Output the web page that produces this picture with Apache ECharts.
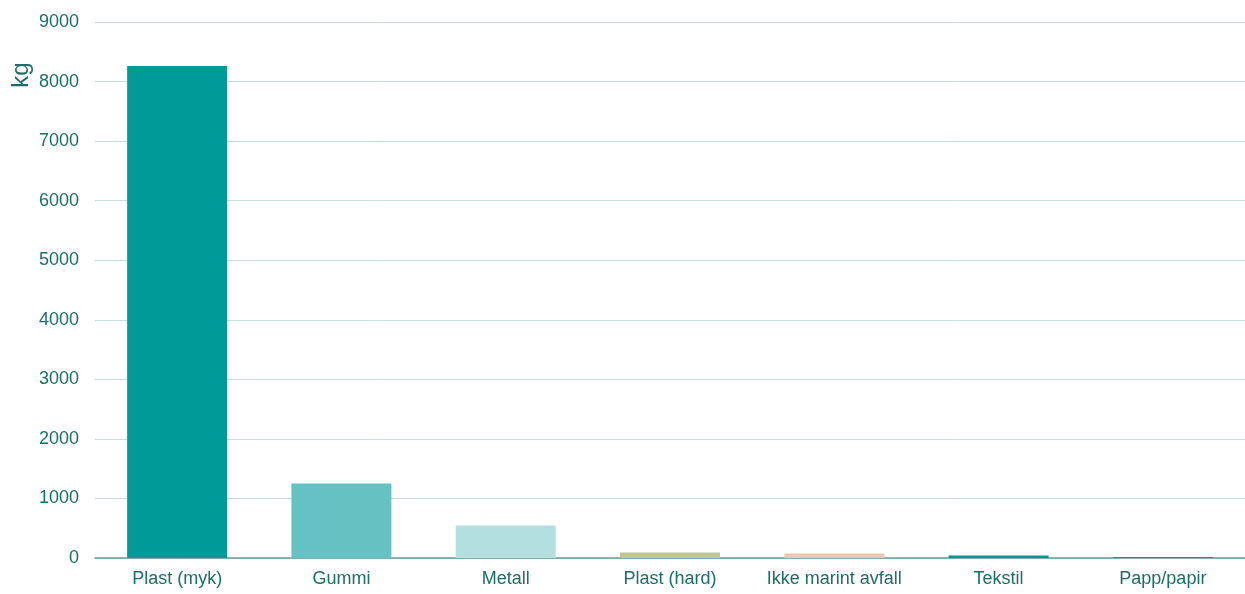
<!DOCTYPE html>
<html>
<head>
<meta charset="utf-8">
<script src="https://cdn.jsdelivr.net/npm/echarts@6/dist/echarts.min.js"></script>
<style>
  html, body { margin: 0; padding: 0; background: #fff; }
  #chart { width: 1245px; height: 594px; }
</style>
</head>
<body>
<div id="chart"></div>
<script>
    var categories = ['Plast (myk)', 'Gummi', 'Metall', 'Plast (hard)', 'Ikke marint avfall', 'Tekstil', 'Papp/papir'];
    var weights = [8260, 1250, 545, 92, 75, 42, 12];
    var barColors = ['#009a98', '#66c2c2', '#b3dfdf', '#c8c38f', '#f2c4b5', '#009590', '#1d7a70'];

    var textColor = '#1c6e68';
    var fontFamily = 'Liberation Sans, Arial, sans-serif';

    var chart = echarts.init(document.getElementById('chart'));

    chart.setOption({
        animation: false,
        grid: {
            left: 95,
            right: 0,
            top: 22,
            bottom: 36
        },
        graphic: [
            {
                // y-akse tittel
                type: 'text',
                x: 21,
                y: 75,
                rotation: Math.PI / 2,
                style: {
                    text: 'kg',
                    fill: textColor,
                    font: '24px ' + fontFamily,
                    align: 'center',
                    verticalAlign: 'middle'
                }
            }
        ],
        xAxis: {
            type: 'category',
            data: categories,
            axisTick: { show: false },
            axisLine: { lineStyle: { color: '#6d9c98', width: 1.5 } },
            axisLabel: {
                interval: 0,
                color: textColor,
                fontFamily: fontFamily,
                fontSize: 18,
                margin: 12
            }
        },
        yAxis: {
            type: 'value',
            min: 0,
            max: 9000,
            interval: 1000,
            axisLine: { show: false },
            axisTick: { show: false },
            splitLine: { lineStyle: { color: '#c6e0de', width: 1 } },
            axisLabel: {
                color: textColor,
                fontFamily: fontFamily,
                fontSize: 18,
                margin: 16,
                formatter: function (v) { return String(v); }
            }
        },
        series: [
            {
                type: 'bar',
                barWidth: 100,
                data: weights.map(function (v, i) {
                    return { value: v, itemStyle: { color: barColors[i] } };
                })
            }
        ]
    });
</script>
</body>
</html>
